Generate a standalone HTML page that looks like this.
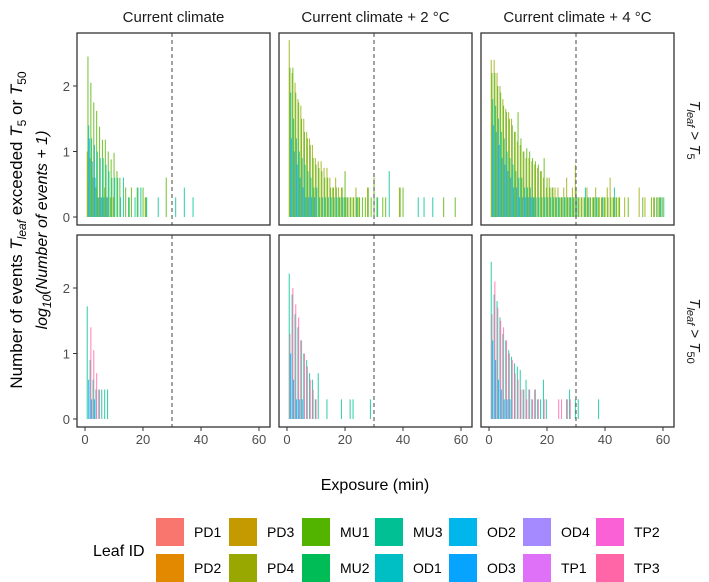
<!DOCTYPE html>
<html><head><meta charset="utf-8"><style>
html,body{margin:0;padding:0;background:#fff;}
svg{display:block;font-family:"Liberation Sans",sans-serif;}
</style></head><body>
<svg id="chart" width="709" height="582" viewBox="0 0 709 582"></svg>
<script>
const NS='http://www.w3.org/2000/svg';
const svg=document.getElementById('chart');
const leafIds=['PD1','PD2','PD3','PD4','MU1','MU2','MU3','OD1','OD2','OD3','OD4','TP1','TP2','TP3'];
const leafColors=['#F8766D','#E38900','#C49A00','#99A800','#53B400','#00BC56','#00C094','#00BFC4','#00B6EB','#06A4FF','#A58AFF','#DF70F8','#FB61D7','#FF66A8'];
const climates=['Current climate','Current climate + 2 °C','Current climate + 4 °C'];
const xTicks=[0,20,40,60];
const yTicks=[0,1,2];
// heights = log10(n+1) per exposure minute starting at 1; 0 = no bar
const p00_MU1=[2.45,2.05,1.75,1.62,1.38,1.18,1.18,1.0,0.88,0.98,0.7,0.6,0,0.45,0.3,0.45,0,0.45,0,0.45,0.3,0,0,0,0,0,0,0.6];
const p00_MU3=[1.4,1.2,1.1,1.0,0.9,0.9,0.8,0.7,0.6,0.6,0.6,0.3,0.6,0,0.3,0,0.3,0.45,0.45,0,0.3,0,0,0,0.3,0,0,0,0,0,0.3,0,0,0.45,0,0,0.3];
const p00_OD3=[1.2,0.85,0.6,0.3,0.3,0.3,0.3];
const p00_PD4=[1.0,0.9,0.6,0.45,0.3,0.3,0.45,0.3,0.3,0.3,0,0,0,0,0,0,0,0,0,0,0.3];
const p01_PD4=[2.7,2.2,2.05,1.8,1.7,1.5,1.3,1.2,1.1,0.9,0.85,0.85,0.75,0.75,0.6,0.45,0.6,0.45,0.45,0.3,0.3,0.3,0.3,0.45,0.3,0,0,0.45,0,0,0,0,0,0,0,0,0,0,0.45];
const p01_MU1=[2.28,2.28,1.9,1.75,1.5,1.3,1.2,1.1,0.9,0.8,0.75,0.7,0.6,0.6,0.45,0.45,0.45,0.3,0.45,0.7,0.3,0.3,0.3,0.3,0.3,0.3,0.3,0.45,0.3,0.6,0.3,0,0.3,0.3,0,0,0,0,0.45,0.45,0,0,0,0,0,0,0,0,0,0,0,0,0,0.3,0,0,0,0.3];
const p01_MU3=[1.9,1.5,1.2,1.0,0.9,0.8,0.7,0.6,0.45,0.45,0.3,0.3,0.3,0.3,0.3,0.3,0.3,0.3,0.3,0.3,0,0,0,0.3,0,0,0,0,0,0,0.3,0,0,0,0.7,0,0,0,0,0,0,0,0,0,0.3,0,0.3,0,0,0.3];
const p01_OD3=[1.2,1.0,0.8,0.6,0.45,0.3,0.3,0.3,0.3];
const p02_PD4=[2.4,2.4,2.2,2.0,1.8,1.65,1.6,1.5,1.3,1.15,1.1,1.0,0.9,0.9,0.85,0.8,0.75,0.7,0.6,0.45,0.6,0.45,0.45,0.45,0.3,0.45,0.6,0.3,0.45,0.8,0.3,0.3,0.3,0.45,0.3,0.3,0.45,0.3,0.3,0.3,0.45,0.6,0.3,0.3,0.3,0,0.3,0,0,0,0,0.45,0,0.3,0,0,0.3,0.3,0.3,0.3];
const p02_MU1=[2.2,2.2,2.0,1.9,1.7,1.6,1.5,1.4,1.3,1.6,1.2,1.0,1.05,1.0,0.9,0.85,0.8,0.7,0.9,0.6,0.45,0.45,0.3,0.3,0.3,0.3,0.3,0.3,0.3,0.45,0.3,0.3,0.3,0.3,0.3,0.3,0.3,0.3,0.3,0.3,0.3,0.3,0.3,0.3,0.3,0,0,0.3,0,0,0,0,0.3,0,0,0.3,0.3,0,0.3,0];
const p02_MU3=[1.8,1.7,1.5,1.3,1.2,1.0,0.9,0.8,0.7,0.6,0.6,0.45,0.45,0.45,0.3,0.3,0.3,0.3,0.3,0.3,0.3,0.3,0.3,0.3,0.3,0.3,0.3,0.3,0.3,0.3,0,0,0.45,0.3,0,0.3,0.3,0,0.3,0,0,0,0.45,0,0,0,0,0,0,0,0,0,0,0,0,0,0,0.3,0.3,0.3];
const p02_OD3=[1.4,1.3,1.1,0.9,0.8,0.7,0.6,0.45,0.45,0.3,0.3,0.3,0.3,0.3,0.3];
const p10_MU3=[1.72,0.9,0.6,0.45,0.45,0.45,0.45,0.45];
const p10_TP3=[0,1.4,1.05,0.7,0.45];
const p10_OD3=[0.6,0.3,0.3];
const p11_MU3=[2.22,1.9,1.6,1.4,1.2,1.0,0.9,0.7,0.6,0.3,0.7,0,0,0.3,0,0,0,0,0.3,0,0,0.3,0.3,0,0,0,0,0,0.3];
const p11_TP3=[1.3,2.0,1.75,1.55,1.2,1.0,0.8,0.6,0.45,0.3];
const p11_OD3=[1.0,0.6,0.3,0.3,0.3];
const p12_MU3=[2.4,1.9,1.8,1.55,1.3,1.2,1.05,0.95,0.85,0.8,0.75,0.45,0.6,0.45,0.3,0.45,0.3,0.3,0.6,0.3,0,0,0,0,0,0,0.3,0.45,0,0.3,0.3,0,0,0,0,0,0,0.3];
const p12_TP3=[1.6,2.1,1.7,1.5,1.4,1.2,1.0,0.9,0.7,0.6,0.45,0.45,0.3,0.45,0.3,0.45,0.3,0,0.3,0,0,0,0,0.3,0.3,0,0.3,0.3];
const p12_OD3=[1.2,0.9,0.6,0.45,0.3,0.3,0.3];
const panelSeries=[
 [[[p00_PD4,3],[p00_MU1,4],[p00_MU3,6],[p00_OD3,9]],[[p01_PD4,3],[p01_MU1,4],[p01_MU3,6],[p01_OD3,9]],[[p02_PD4,3],[p02_MU1,4],[p02_MU3,6],[p02_OD3,9]]],
 [[[p10_MU3,6],[p10_TP3,13],[p10_OD3,9]],[[p11_MU3,6],[p11_TP3,13],[p11_OD3,9]],[[p12_MU3,6],[p12_TP3,13],[p12_OD3,9]]]
];
const panelLeft=[77,279,481], panelW=193;
const panelTop=[33,235], panelH=192;
function el(tag,attrs,parent){const e=document.createElementNS(NS,tag);for(const k in attrs)e.setAttribute(k,attrs[k]);(parent||svg).appendChild(e);return e;}
function xs(c,v){return panelLeft[c]+8+v*2.9;}
function ys(r,v){return panelTop[r]+184-v*65.5;}
for(let r=0;r<2;r++){for(let c=0;c<3;c++){
 const g=el('g',{});
 
 
 el('rect',{x:panelLeft[c],y:panelTop[r],width:panelW,height:panelH,fill:'#fff'},g);
 const ser=panelSeries[r][c];
 ser.forEach((s,si)=>{
  const arr=s[0],col=leafColors[s[1]];
  arr.forEach((v,i)=>{ if(v<=0)return;
   const x=xs(c,i+1)-1.2+si*0.7;
   const b=el('rect',{x:x.toFixed(2),y:ys(r,v).toFixed(2),width:1.1,height:(v*65.5).toFixed(2),fill:col,'fill-opacity':0.75},g);
   
   
  });
 });
 const d=el('line',{x1:xs(c,30),x2:xs(c,30),y1:panelTop[r],y2:panelTop[r]+panelH,stroke:'#666','stroke-dasharray':'4,3','stroke-width':1.2},g);
 
 
 el('rect',{x:panelLeft[c],y:panelTop[r],width:panelW,height:panelH,fill:'none',stroke:'#333','stroke-width':1.3},g);
 if(c===0){yTicks.forEach(t=>{
  el('line',{x1:panelLeft[0]-4,x2:panelLeft[0],y1:ys(r,t),y2:ys(r,t),stroke:'#333'});
  const tx=el('text',{x:panelLeft[0]-7,y:ys(r,t)+5,'text-anchor':'end','font-size':13,fill:'#4d4d4d'});tx.textContent=t;
  
 });}
 if(r===1){xTicks.forEach(t=>{
  el('line',{x1:xs(c,t),x2:xs(c,t),y1:427,y2:431,stroke:'#333'});
  const tx=el('text',{x:xs(c,t),y:444,'text-anchor':'middle','font-size':13,fill:'#4d4d4d'});tx.textContent=t;
  
 });}
}}
climates.forEach((t,c)=>{const tx=el('text',{x:panelLeft[c]+panelW/2,y:22,'text-anchor':'middle','font-size':15,fill:'#1a1a1a'});tx.textContent=t;
 });
</script>
<script>
(function(){
const NS='http://www.w3.org/2000/svg';const svg=document.getElementById('chart');
function txt(x,y,html,attrs,name){const t=document.createElementNS(NS,'text');t.setAttribute('x',x);t.setAttribute('y',y);for(const k in attrs)t.setAttribute(k,attrs[k]);t.innerHTML=html;


svg.appendChild(t);return t;}
txt(690,130,'<tspan font-style="italic">T</tspan><tspan font-style="italic" font-size="11" dy="3">leaf</tspan><tspan dy="-3"> &gt; </tspan><tspan font-style="italic">T</tspan><tspan font-size="11" dy="3">5</tspan>',{'font-size':15,'text-anchor':'middle',transform:'rotate(90 690 130)',fill:'#1a1a1a'},'strip-label-t5');
txt(690,331,'<tspan font-style="italic">T</tspan><tspan font-style="italic" font-size="11" dy="3">leaf</tspan><tspan dy="-3"> &gt; </tspan><tspan font-style="italic">T</tspan><tspan font-size="11" dy="3">50</tspan>',{'font-size':15,'text-anchor':'middle',transform:'rotate(90 690 331)',fill:'#1a1a1a'},'strip-label-t50');
txt(22,230,'Number of events <tspan font-style="italic">T</tspan><tspan font-style="italic" font-size="12" dy="4">leaf</tspan><tspan dy="-4"> exceeded </tspan><tspan font-style="italic">T</tspan><tspan font-size="12" dy="4">5</tspan><tspan dy="-4"> or </tspan><tspan font-style="italic">T</tspan><tspan font-size="12" dy="4">50</tspan>',{'font-size':17,'text-anchor':'middle',transform:'rotate(-90 22 230)',fill:'#000'},'y-axis-title');
txt(47,230,'<tspan font-style="italic">log</tspan><tspan font-style="italic" font-size="12" dy="4">10</tspan><tspan font-style="italic" dy="-4">(Number of events + 1)</tspan>',{'font-size':16,'text-anchor':'middle',transform:'rotate(-90 47 230)',fill:'#000'},'y-axis-subtitle');
txt(375,490,'Exposure (min)',{'font-size':16,'text-anchor':'middle',fill:'#000'},'x-axis-title');
txt(93,556,'Leaf ID',{'font-size':16,fill:'#000'},'legend-title');
const ids=['PD1','PD2','PD3','PD4','MU1','MU2','MU3','OD1','OD2','OD3','OD4','TP1','TP2','TP3'];
const cols=['#F8766D','#E38900','#C49A00','#99A800','#53B400','#00BC56','#00C094','#00BFC4','#00B6EB','#06A4FF','#A58AFF','#DF70F8','#FB61D7','#FF66A8'];
const kx=[156,229,302,375,449,523,596];
ids.forEach((id,i)=>{const col=Math.floor(i/2),row=i%2;const x=kx[col],y=row?554:518;
 const r=document.createElementNS(NS,'rect');r.setAttribute('x',x);r.setAttribute('y',y);r.setAttribute('width',28);r.setAttribute('height',28);r.setAttribute('fill',cols[i]);
 
 
 svg.appendChild(r);
 txt(x+38,y+19,id,{'font-size':14,fill:'#000'},'legend-label-'+id.toLowerCase());
});
})();
</script>
</body></html>
